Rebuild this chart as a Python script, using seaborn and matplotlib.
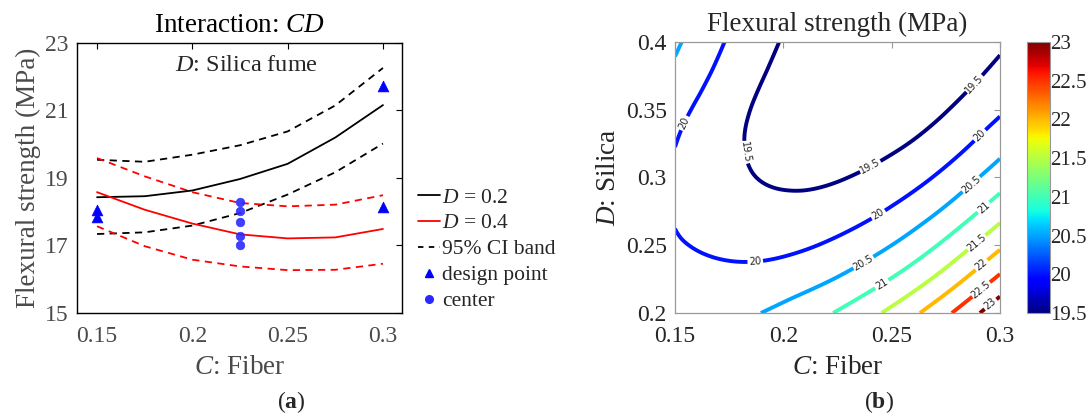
import numpy as np
import pandas as pd
import matplotlib
matplotlib.use("Agg")
import matplotlib.pyplot as plt
import matplotlib.tri as mtri
import seaborn as sns
from matplotlib.lines import Line2D
from matplotlib.cm import ScalarMappable
from matplotlib.colors import Normalize

# ---- data: interaction plot (a) ----
fiber = [0.15, 0.175, 0.2, 0.225, 0.25, 0.275, 0.3]
d02_mean = [18.43, 18.46, 18.63, 18.97, 19.42, 20.20, 21.16]
d02_upper = [19.54, 19.48, 19.69, 19.97, 20.38, 21.15, 22.26]
d02_lower = [17.34, 17.39, 17.59, 17.96, 18.51, 19.17, 20.02]
d04_mean = [18.58, 18.06, 17.65, 17.33, 17.21, 17.24, 17.49]
d04_upper = [19.59, 19.05, 18.58, 18.26, 18.16, 18.21, 18.49]
d04_lower = [17.57, 16.98, 16.58, 16.38, 16.27, 16.28, 16.46]

design_c = [0.15, 0.15, 0.3, 0.3]
design_y = [18.06, 17.84, 21.74, 18.13]
center_c = [0.225, 0.225, 0.225, 0.225, 0.225]
center_y = [18.29, 18.03, 17.70, 17.29, 17.00]

# ---- data: contour plot (b) ----
grid_c = [0.15, 0.175, 0.2, 0.225, 0.25, 0.275, 0.3]
grid_d = [0.2, 0.225, 0.25, 0.275, 0.3, 0.325, 0.35, 0.375, 0.4]
strength_grid = [
    [20.40, 20.40, 20.62, 21.04, 21.62, 22.40, 23.38],
    [20.22, 20.14, 20.24, 20.53, 21.02, 21.71, 22.61],
    [20.05, 19.89, 19.89, 20.10, 20.50, 21.11, 21.91],
    [19.97, 19.71, 19.63, 19.74, 20.06, 20.58, 21.30],
    [19.94, 19.61, 19.44, 19.47, 19.70, 20.13, 20.76],
    [20.01, 19.59, 19.34, 19.28, 19.42, 19.76, 20.31],
    [20.15, 19.66, 19.31, 19.17, 19.22, 19.48, 19.93],
    [20.38, 19.80, 19.37, 19.13, 19.10, 19.27, 19.64],
    [20.58, 19.95, 19.47, 19.18, 19.06, 19.14, 19.42],
]
levels = [19.5, 20, 20.5, 21, 21.5, 22, 22.5, 23]

# where the contour labels sit (C, D)
label_spots = [
    (0.153, 0.341), (0.1846, 0.319), (0.2385, 0.313), (0.288, 0.3695),
    (0.187, 0.239), (0.243, 0.275), (0.2908, 0.331),
    (0.2385, 0.233), (0.287, 0.2945),
    (0.2462, 0.2194), (0.293, 0.277),
    (0.2877, 0.255), (0.2915, 0.2354), (0.2915, 0.217), (0.2954, 0.207),
]

sns.set_theme(style="white")
plt.rcParams["font.family"] = ["Liberation Serif", "DejaVu Serif"]
plt.rcParams["mathtext.fontset"] = "custom"
plt.rcParams["mathtext.rm"] = "Liberation Serif"
plt.rcParams["mathtext.it"] = "Liberation Serif:italic"
plt.rcParams["mathtext.bf"] = "Liberation Serif:bold"

GRAY = "#4a4a4a"
DARK = "#262626"

fig = plt.figure(figsize=(10.88, 4.17), dpi=100)
ax1 = fig.add_axes([0.0708, 0.2494, 0.2987, 0.6475])
ax2 = fig.add_axes([0.6204, 0.2494, 0.2987, 0.65])
cax = fig.add_axes([0.9439, 0.2494, 0.0211, 0.65])

# ---- panel (a) ----
dash = (0, (4, 3))
curves = [
    (d02_upper, "black", dash),
    (d02_lower, "black", dash),
    (d04_upper, "red", dash),
    (d04_lower, "red", dash),
    (d02_mean, "black", "-"),
    (d04_mean, "red", "-"),
]
for vals, col, ls in curves:
    sns.lineplot(x=fiber, y=vals, color=col, linestyle=ls, linewidth=1.3,
                 sort=False, ax=ax1)

sns.scatterplot(x=design_c, y=design_y, marker="^", color="#0000ff", s=60,
                edgecolor="#0000ff", linewidth=0.5, ax=ax1, legend=False, zorder=5)
sns.scatterplot(x=center_c, y=center_y, marker="o", color="#2a2aff", s=38,
                edgecolor="#2a2aff", linewidth=0.5, alpha=0.9, ax=ax1,
                legend=False, zorder=5)

ax1.set_xlim(0.1395, 0.31)
ax1.set_ylim(15, 23)
ax1.set_xticks([0.15, 0.2, 0.25, 0.3])
ax1.set_xticklabels(["0.15", "0.2", "0.25", "0.3"])
ax1.set_yticks([15, 17, 19, 21, 23])
ax1.tick_params(direction="in", length=4, width=0.8, top=True, right=True,
                labelsize=17, colors="black", labelcolor=GRAY)
ax1.tick_params(axis="x", pad=9)
ax1.tick_params(axis="y", pad=6)
for s in ax1.spines.values():
    s.set_color("black")
    s.set_linewidth(1.0)
ax1.set_xlabel(r"$\mathit{C}$: Fiber", fontsize=19.5, color=GRAY, labelpad=6)
ax1.set_ylabel("Flexural strength (MPa)", fontsize=19.5, color=GRAY, labelpad=3)
ax1.set_title(r"Interaction: $\mathit{CD}$", fontsize=19.5, color="black", pad=8)
ax1.text(0.30, 0.896, r"$\mathit{D}$: Silica fume", transform=ax1.transAxes,
         fontsize=17.5, va="baseline", ha="left")

handles = [
    Line2D([], [], color="black", lw=1.3),
    Line2D([], [], color="red", lw=1.3),
    Line2D([], [], color="black", lw=1.3, linestyle=(0, (3, 3))),
    Line2D([], [], color="#0000ff", marker="^", ls="none", markersize=6),
    Line2D([], [], color="#2a2aff", marker="o", ls="none", markersize=5.5),
]
labels = [r"$\mathit{D}$ = 0.2", r"$\mathit{D}$ = 0.4", "95% CI band",
          "design point", "center"]
ax1.legend(handles, labels, loc="upper left", bbox_to_anchor=(1.05, 0.465),
           frameon=False, fontsize=15.5, handlelength=1.0, handletextpad=0.1,
           labelspacing=0.27, borderaxespad=0, borderpad=0)

# ---- panel (b) ----
CC, DD = np.meshgrid(grid_c, grid_d)
tri = mtri.Triangulation(CC.ravel(), DD.ravel())
zvals = np.array(strength_grid).ravel()
refiner = mtri.UniformTriRefiner(tri)
tri_f, z_f = refiner.refine_field(
    zvals, triinterpolator=mtri.CubicTriInterpolator(tri, zvals), subdiv=4)
cs = ax2.tricontour(tri_f, z_f, levels=levels, cmap="jet", vmin=19.5,
                    vmax=23, linewidths=2.8)
ax2.set_xlim(0.15, 0.3)
ax2.set_ylim(0.2, 0.4)
clbls = ax2.clabel(cs, inline=True, fontsize=7, fmt="%g", colors="#222222",
                   manual=label_spots, inline_spacing=3)
for t in clbls:
    t.set_fontfamily("DejaVu Sans")
ax2.set_xticks([0.15, 0.2, 0.25, 0.3])
ax2.set_xticklabels(["0.15", "0.2", "0.25", "0.3"])
ax2.set_yticks([0.2, 0.25, 0.3, 0.35, 0.4])
ax2.set_yticklabels(["0.2", "0.25", "0.3", "0.35", "0.4"])
ax2.tick_params(direction="in", length=4, width=0.8, top=True, right=True,
                labelsize=17, colors="#999999", labelcolor=DARK)
ax2.tick_params(axis="x", pad=9)
ax2.tick_params(axis="y", pad=6)
for s in ax2.spines.values():
    s.set_color("#999999")
    s.set_linewidth(0.9)
ax2.set_xlabel(r"$\mathit{C}$: Fiber", fontsize=19.5, color=DARK, labelpad=6)
ax2.set_ylabel(r"$\mathit{D}$: Silica", fontsize=19.5, color=DARK, labelpad=3)
ax2.set_title("Flexural strength (MPa)", fontsize=19.5, color=DARK, pad=8)

sm = ScalarMappable(norm=Normalize(19.5, 23), cmap="jet")
cb = fig.colorbar(sm, cax=cax)
cb.set_ticks([19.5, 20, 20.5, 21, 21.5, 22, 22.5, 23])
cb.set_ticklabels(["19.5", "20", "20.5", "21", "21.5", "22", "22.5", "23"])
cb.ax.tick_params(direction="in", length=0, labelsize=15, colors="#999999",
                  labelcolor=DARK, pad=0.5)
cb.outline.set_edgecolor("#999999")
cb.outline.set_linewidth(0.8)

fig.text(0.268, 0.036, r"($\mathbf{a}$)", fontsize=17, ha="center", va="center")
fig.text(0.808, 0.036, r"($\mathbf{b}$)", fontsize=17, ha="center", va="center")

fig.savefig("out.png", dpi=100)
